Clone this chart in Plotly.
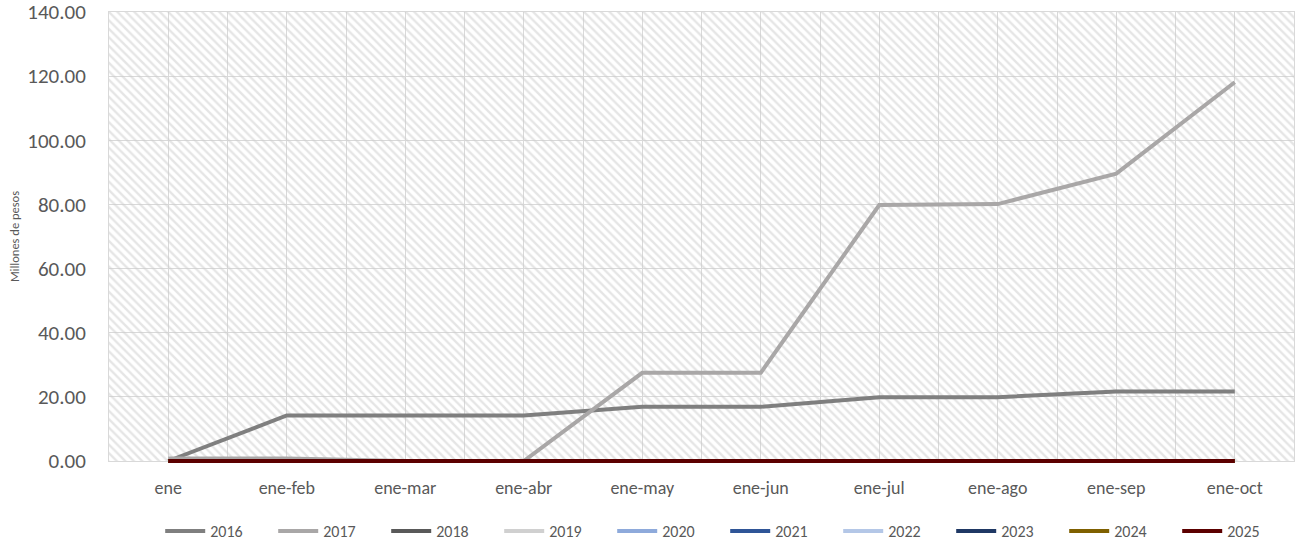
import plotly.graph_objects as go

# Cumulative amounts per period (millions of pesos)
months = ["ene", "ene-feb", "ene-mar", "ene-abr", "ene-may",
          "ene-jun", "ene-jul", "ene-ago", "ene-sep", "ene-oct"]

y2016 = [0.0, 14.2, 14.2, 14.2, 16.9, 16.9, 19.9, 19.9, 21.7, 21.7]
y2017 = [0.8, 0.8, 0.0, 0.0, 27.5, 27.5, 79.8, 80.1, 89.6, 118.1]
y2018 = [0.0] * 10
y2019 = [0.0] * 10
y2020 = [0.0] * 10
y2021 = [0.0] * 10
y2022 = [0.0] * 10
y2023 = [0.0] * 10
y2024 = [0.0] * 10
y2025 = [0.0] * 10

series = [
    ("2016", y2016, "#7f7f7f"),
    ("2017", y2017, "#a9a7a7"),
    ("2018", y2018, "#595959"),
    ("2019", y2019, "#d0d0d0"),
    ("2020", y2020, "#8eaadb"),
    ("2021", y2021, "#2f5597"),
    ("2022", y2022, "#b4c7e7"),
    ("2023", y2023, "#1f3864"),
    ("2024", y2024, "#7f6000"),
    ("2025", y2025, "#5c0000"),
]

y_ticks = [0, 20, 40, 60, 80, 100, 120, 140]
x_idx = list(range(len(months)))
x_range = [-0.5, len(months) - 0.5]
y_range = [0, 140]

FONT = "Carlito, Calibri, Lato, sans-serif"
TEXT = "#595959"
GRID = "#d9d9d9"

# Figure geometry: the line layer gets a few extra pixels above and below
# the gridded area so thick lines at 0 are not cut in half.
H = 541
M_TOP, M_BOT = 8, 76
PAD = 4
area_h = H - M_TOP - M_BOT
grid_h = area_h - 2 * PAD
units_per_px = (y_range[1] - y_range[0]) / grid_h
y2_range = [y_range[0] - PAD * units_per_px, y_range[1] + PAD * units_per_px]

# legend row centred ~70 px under the bottom of the gridded area
legend_y = -(70 - PAD) / area_h

fig = go.Figure()

# hatched plot-area background
fig.add_trace(go.Scatter(
    x=[x_range[0], x_range[1], x_range[1], x_range[0], x_range[0]],
    y=[y_range[0], y_range[0], y_range[1], y_range[1], y_range[0]],
    mode="lines", line=dict(width=0), fill="toself",
    fillcolor="rgba(0,0,0,0)",
    fillpattern=dict(shape="\\", size=6, solidity=0.4,
                     fgcolor="#cccccc", bgcolor="rgba(0,0,0,0)"),
    showlegend=False, hoverinfo="skip",
))

for name, vals, color in series:
    fig.add_trace(go.Scatter(
        x=x_idx, y=vals, name=name, mode="lines",
        line=dict(color=color, width=4),
        xaxis="x2", yaxis="y2",
    ))

fig.update_layout(
    width=1299, height=H,
    margin=dict(l=109, r=5, t=M_TOP, b=M_BOT, autoexpand=False),
    paper_bgcolor="white", plot_bgcolor="rgba(0,0,0,0)",
    font=dict(family=FONT, color=TEXT),
    showlegend=True,
    legend=dict(
        orientation="h", x=0.52, xanchor="center", y=legend_y, yanchor="middle",
        font=dict(size=16, color=TEXT, family=FONT),
        entrywidth=58, entrywidthmode="pixels",
        itemwidth=40, bgcolor="rgba(0,0,0,0)",
    ),
    xaxis=dict(
        range=x_range, tickmode="array", tickvals=x_idx, ticktext=months,
        showgrid=True, gridcolor=GRID, gridwidth=1,
        minor=dict(tickmode="array", tickvals=[i + 0.5 for i in x_idx[:-1]],
                   showgrid=True, gridcolor=GRID, gridwidth=1),
        showline=True, linecolor=GRID, mirror=True,
        zeroline=False, ticks="", ticklabelstandoff=10,
        tickfont=dict(size=18, color=TEXT, family=FONT),
    ),
    yaxis=dict(
        domain=[PAD / area_h, 1 - PAD / area_h],
        range=y_range, tickmode="array", tickvals=y_ticks,
        tickformat=".2f", showgrid=True, gridcolor=GRID, gridwidth=1,
        showline=True, linecolor=GRID, mirror=True,
        zeroline=False, ticks="", ticklabelstandoff=18,
        ticklabeloverflow="allow",
        tickfont=dict(size=21, color=TEXT, family=FONT),
        title=dict(text="Millones de pesos", standoff=4,
                   font=dict(size=12.5, color=TEXT, family=FONT)),
    ),
    xaxis2=dict(range=x_range, anchor="y2", visible=False, showgrid=False),
    yaxis2=dict(domain=[0, 1], range=y2_range, anchor="x2",
                visible=False, showgrid=False),
)

fig.write_html("out.html")
